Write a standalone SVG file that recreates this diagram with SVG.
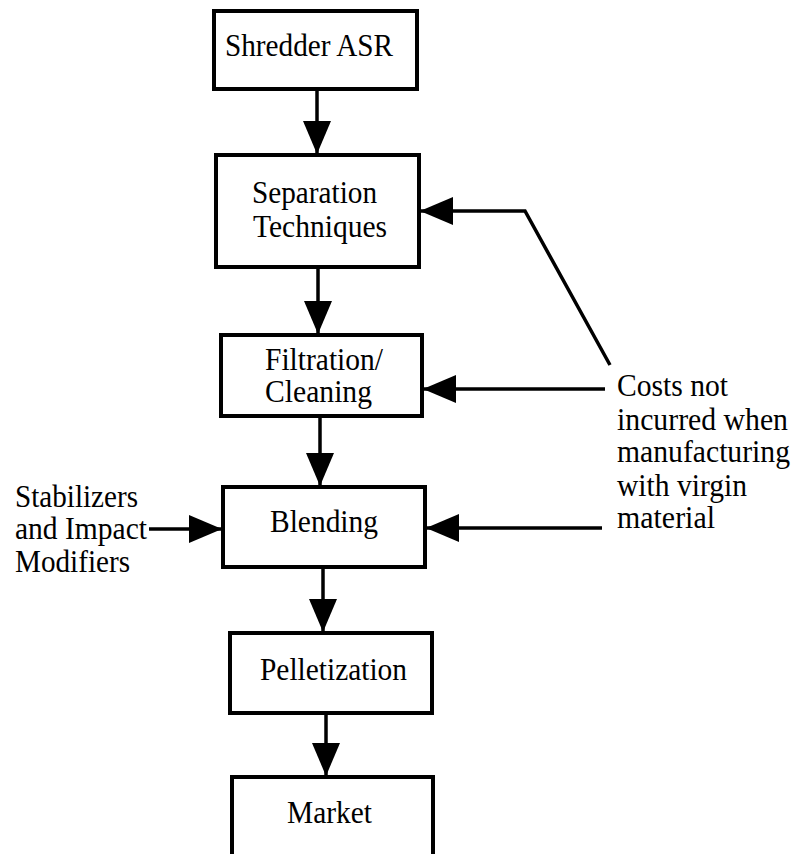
<svg xmlns="http://www.w3.org/2000/svg" width="794" height="854" viewBox="0 0 794 854">
<style>
.box{fill:#fff;stroke:#000;stroke-width:4}
.t{font-family:"Liberation Serif","Times New Roman",serif;font-size:32px;fill:#000}
.ln{fill:none;stroke:#000;stroke-width:3.5}
</style>
<defs>
<marker id="ah" markerUnits="userSpaceOnUse" markerWidth="34" markerHeight="28" refX="33" refY="14" orient="auto">
<path d="M0,0 L33,14 L0,28 z" fill="#000"/>
</marker>
</defs>
<rect width="794" height="854" fill="#fff"/>
<g id="connectors">
<line class="ln" x1="317" y1="89" x2="317" y2="154" marker-end="url(#ah)"/>
<line class="ln" x1="318" y1="267" x2="318" y2="334" marker-end="url(#ah)"/>
<line class="ln" x1="320" y1="416" x2="320" y2="486" marker-end="url(#ah)"/>
<line class="ln" x1="323" y1="567" x2="323" y2="632" marker-end="url(#ah)"/>
<line class="ln" x1="326" y1="713" x2="326" y2="776" marker-end="url(#ah)"/>
<polyline class="ln" points="610,365 525,211 420,211" marker-end="url(#ah)"/>
<line class="ln" x1="605" y1="389" x2="423" y2="389" marker-end="url(#ah)"/>
<line class="ln" x1="602" y1="528" x2="426" y2="528" marker-end="url(#ah)"/>
<line class="ln" x1="149" y1="529" x2="222" y2="529" marker-end="url(#ah)"/>
</g>
<g id="shredder">
<rect class="box" x="214" y="11" width="203" height="78"/>
<text class="t" x="225" y="56" textLength="168" lengthAdjust="spacingAndGlyphs">Shredder ASR</text>
</g>
<g id="separation">
<rect class="box" x="216" y="155" width="203" height="112"/>
<text class="t" x="252" y="203" textLength="125" lengthAdjust="spacingAndGlyphs">Separation</text>
<text class="t" x="253" y="237" textLength="134" lengthAdjust="spacingAndGlyphs">Techniques</text>
</g>
<g id="filtration">
<rect class="box" x="221" y="335" width="201" height="81"/>
<text class="t" x="265" y="370" textLength="118" lengthAdjust="spacingAndGlyphs">Filtration/</text>
<text class="t" x="265" y="402" textLength="107" lengthAdjust="spacingAndGlyphs">Cleaning</text>
</g>
<g id="blending">
<rect class="box" x="223" y="487" width="202" height="80"/>
<text class="t" x="270" y="532" textLength="108" lengthAdjust="spacingAndGlyphs">Blending</text>
</g>
<g id="pelletization">
<rect class="box" x="230" y="633" width="202" height="80"/>
<text class="t" x="260" y="680" textLength="147" lengthAdjust="spacingAndGlyphs">Pelletization</text>
</g>
<g id="market">
<rect class="box" x="232" y="777" width="201" height="90"/>
<text class="t" x="287" y="823" textLength="85" lengthAdjust="spacingAndGlyphs">Market</text>
</g>
<g id="stabilizers">
<text class="t" x="15" y="507" textLength="123" lengthAdjust="spacingAndGlyphs">Stabilizers</text>
<text class="t" x="15" y="539" textLength="132" lengthAdjust="spacingAndGlyphs">and Impact</text>
<text class="t" x="15" y="572" textLength="115" lengthAdjust="spacingAndGlyphs">Modifiers</text>
</g>
<g id="costs">
<text class="t" x="617" y="396" textLength="111" lengthAdjust="spacingAndGlyphs">Costs not</text>
<text class="t" x="617" y="430" textLength="171" lengthAdjust="spacingAndGlyphs">incurred when</text>
<text class="t" x="617" y="462" textLength="173" lengthAdjust="spacingAndGlyphs">manufacturing</text>
<text class="t" x="617" y="496" textLength="130" lengthAdjust="spacingAndGlyphs">with virgin</text>
<text class="t" x="617" y="528" textLength="98" lengthAdjust="spacingAndGlyphs">material</text>
</g>
</svg>
